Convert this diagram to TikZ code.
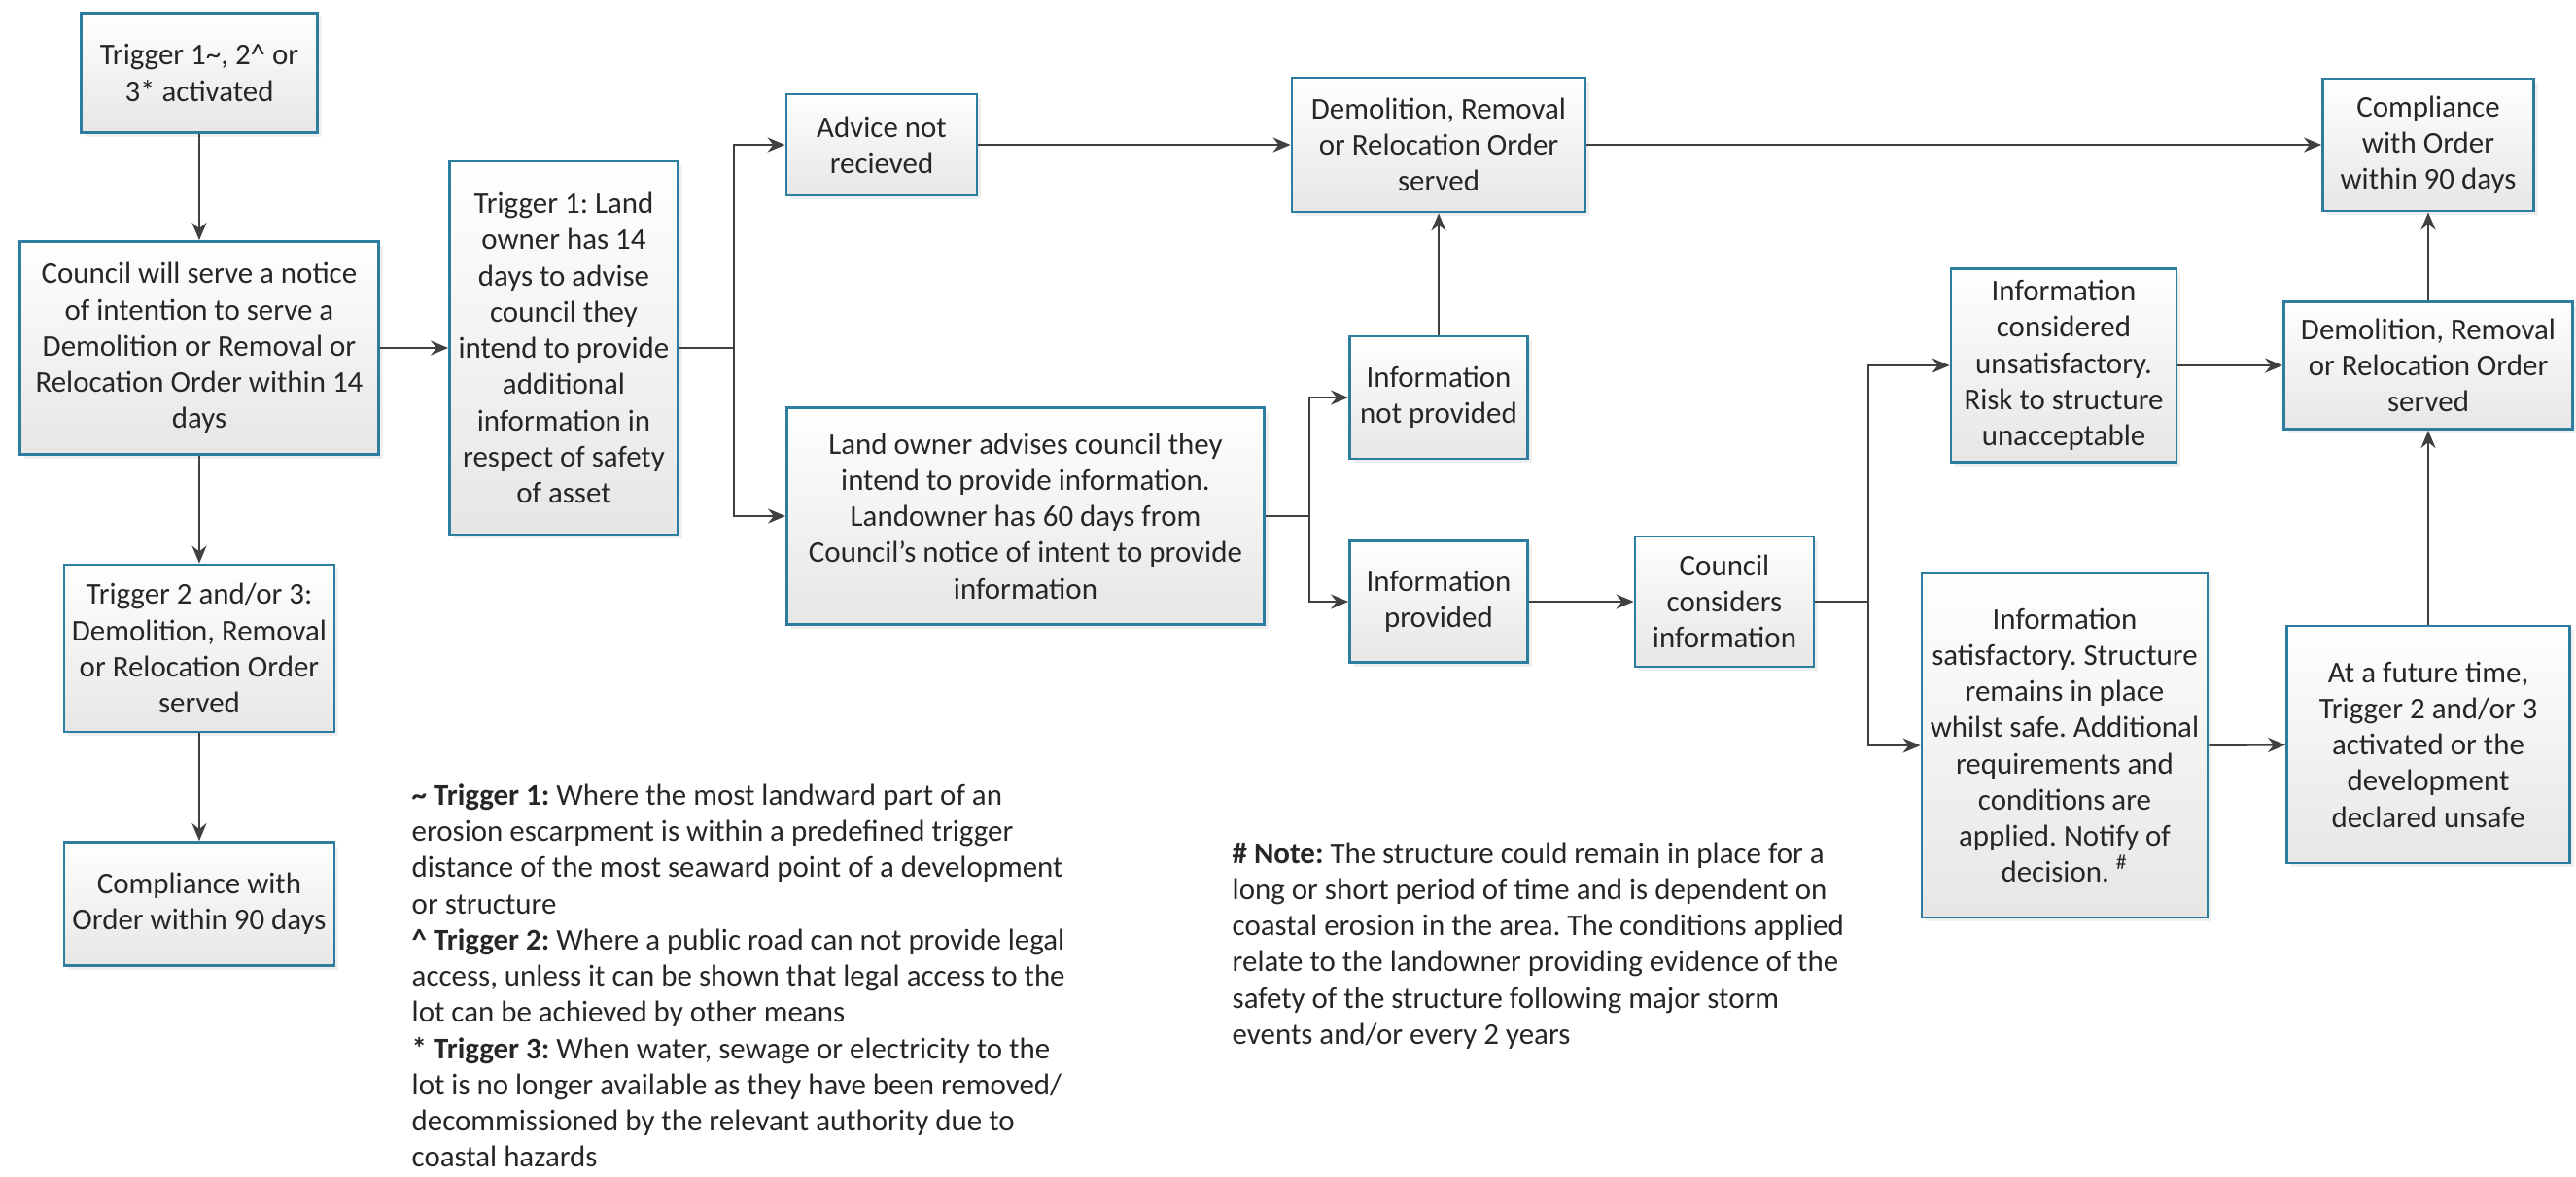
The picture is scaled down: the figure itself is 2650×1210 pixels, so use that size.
\documentclass[tikz,border=0pt]{standalone}
\usepackage{fontspec}
\setmainfont{Carlito}
\frenchspacing
\usetikzlibrary{arrows.meta,shadows,calc}
\definecolor{boxline}{RGB}{45,125,160}
\definecolor{boxbot}{RGB}{230,230,230}
\definecolor{arrowc}{RGB}{64,64,64}
\definecolor{txt}{RGB}{38,38,38}
\tikzset{
  box/.style={draw=boxline, line width=0.8pt, top color=white, bottom color=boxbot,
    align=center, inner sep=0pt, font=\fontsize{8.8}{10.6}\selectfont, text=txt,
    drop shadow={opacity=0.12, shadow xshift=0.4mm, shadow yshift=-0.4mm}},
  sz/.style 2 args={minimum width=#1, minimum height=#2},
  arr/.style={draw=arrowc, line width=0.7pt, -{Stealth[length=1.8mm,width=1.5mm]}},
  ln/.style={draw=arrowc, line width=0.7pt},
  notetext/.style={align=left, inner sep=0pt, anchor=north west,
    font=\fontsize{8.8}{10.6}\selectfont, text=txt}
}
\begin{document}
\begin{tikzpicture}[x=0.1mm, y=-0.1mm]
\useasboundingbox[fill=white] (0,0) rectangle (2650,1210);

% left column
\node[box, sz={24.3mm}{12.3mm}] (t0) at (205,75) {Trigger 1\textasciitilde, 2\textasciicircum{} or\\3* activated};
\node[box, sz={36.9mm}{21.9mm}] (cn) at (205,358) {Council will serve a notice\\of intention to serve a\\Demolition or Removal or\\Relocation Order within 14\\days};
\node[box, sz={27.8mm}{17.2mm}] (t2) at (205,667) {Trigger 2 and/or 3:\\Demolition, Removal\\or Relocation Order\\served};
\node[box, sz={27.8mm}{12.7mm}] (cl) at (205,930) {Compliance with\\Order within 90 days};

% trigger 1 column
\node[box, sz={23.5mm}{38.4mm}] (t1l) at (580,358) {Trigger 1: Land\\owner has 14\\days to advise\\council they\\intend to provide\\additional\\information in\\respect of safety\\of asset};

\node[box, sz={19.6mm}{10.4mm}] (adv) at (907,149) {Advice not\\recieved};
\node[box, sz={49.1mm}{22.3mm}] (lo) at (1055,531) {Land owner advises council they\\intend to provide information.\\Landowner has 60 days from\\Council’s notice of intent to provide\\information};

\node[box, sz={30.2mm}{13.8mm}] (dt) at (1480,149) {Demolition, Removal\\or Relocation Order\\served};
\node[box, sz={18.3mm}{12.6mm}] (inp) at (1480,409) {Information\\not provided};
\node[box, sz={18.3mm}{12.5mm}] (ip) at (1480,619) {Information\\provided};
\node[box, sz={18.4mm}{13.4mm}] (cc) at (1774,619) {Council\\considers\\information};

\node[box, sz={23.2mm}{19.9mm}] (iu) at (2123,376) {Information\\considered\\unsatisfactory.\\Risk to structure\\unacceptable};
\node[box, sz={29.4mm}{35.4mm}] (is) at (2124,767) {Information\\satisfactory. Structure\\remains in place\\whilst safe. Additional\\requirements and\\conditions are\\applied. Notify of\\decision. \textsuperscript{\#}};

\node[box, sz={21.7mm}{13.6mm}] (cr) at (2498,149) {Compliance\\with Order\\within 90 days};
\node[box, sz={29.7mm}{13.1mm}] (dr) at (2498,376) {Demolition, Removal\\or Relocation Order\\served};
\node[box, sz={29.1mm}{24.4mm}] (ft) at (2498,766) {At a future time,\\Trigger 2 and/or 3\\activated or the\\development\\declared unsafe};

% notes
\node[notetext] (n1) at (423,806) {\textbf{\textasciitilde{} Trigger 1:} Where the most landward part of an\\erosion escarpment is within a predefined trigger\\distance of the most seaward point of a development\\or structure\\\textbf{\textasciicircum{} Trigger 2:} Where a public road can not provide legal\\access, unless it can be shown that legal access to the\\lot can be achieved by other means\\\textbf{* Trigger 3:} When water, sewage or electricity to the\\lot is no longer available as they have been removed/\\decommissioned by the relevant authority due to\\coastal hazards};
\node[notetext] (n2) at (1267,866) {\textbf{\# Note:} The structure could remain in place for a\\long or short period of time and is dependent on\\coastal erosion in the area. The conditions applied\\relate to the landowner providing evidence of the\\safety of the structure following major storm\\events and/or every 2 years};

% branch points
\coordinate (b1) at (755,358);
\coordinate (b2) at (1347,531);
\coordinate (b3) at (1922,619);

% connectors
\draw[arr] (t0) -- (cn);
\draw[arr] (cn) -- (t2);
\draw[arr] (t2) -- (cl);
\draw[arr] (cn) -- (t1l);
\draw[ln] (t1l.east) -- (b1);
\draw[arr] (b1) |- (adv.west);
\draw[arr] (b1) |- (lo.west);
\draw[arr] (adv) -- (dt);
\draw[arr] (dt) -- (cr);
\draw[ln] (lo.east) -- (b2);
\draw[arr] (b2) |- (inp.west);
\draw[arr] (b2) |- (ip.west);
\draw[arr] (inp) -- (dt);
\draw[arr] (ip) -- (cc);
\draw[ln] (cc.east) -- (b3);
\draw[arr] (b3) |- (iu.west);
\draw[arr] (b3) |- (is.west);
\draw[arr] (iu) -- (dr);
\draw[arr] (dr) -- (cr);
\draw[arr] (is) -- (ft);
\draw[arr] (ft) -- (dr);
\end{tikzpicture}
\end{document}
